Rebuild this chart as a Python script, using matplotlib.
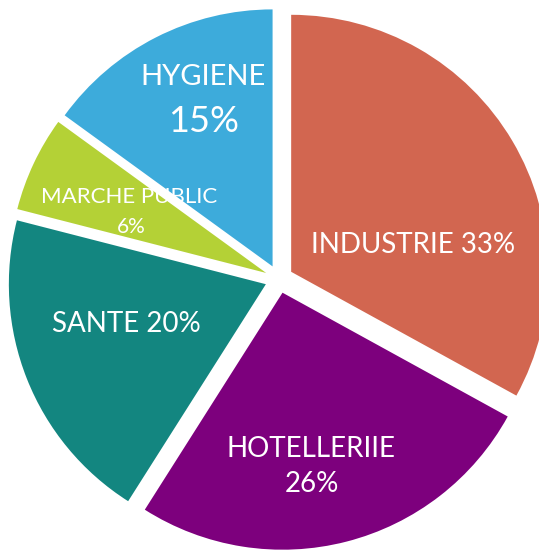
import matplotlib
matplotlib.use("Agg")
import matplotlib.pyplot as plt

categories = ["INDUSTRIE", "HOTELLERIIE", "SANTE", "MARCHE PUBLIC", "HYGIENE"]
values = [33, 26, 20, 6, 15]
colors = ["#D26650", "#7D007D", "#138680", "#B4D136", "#3DABDB"]

W, H = 539, 551
fig = plt.figure(figsize=(W / 100, H / 100), dpi=100)
ax = fig.add_axes([0, 0, 1, 1])
ax.pie(values, colors=colors, startangle=90, counterclock=False,
       explode=[0.055] * len(values), radius=1.0,
       wedgeprops=dict(linewidth=0))
ax.set_aspect("auto")
R, cxp, cyp = 257.0, 279.0, 279.0
ax.set_xlim(-cxp / R, (W - cxp) / R)
ax.set_ylim(-(H - cyp) / R, cyp / R)
ax.axis("off")

fam = ["Lato", "DejaVu Sans"]
def px(x, y):
    return x / W, 1 - y / H

def label(x, y, s, size, weight="normal"):
    fx, fy = px(x, y)
    fig.text(fx, fy, s, ha="center", va="center", color="white",
             fontsize=size, family=fam, fontweight=weight)

label(413, 245, f"{categories[0]} {values[0]}%", 20)
label(311, 449, categories[1], 20)
label(312, 484, f"{values[1]}%", 20)
label(126, 324, f"{categories[2]} {values[2]}%", 20)
label(129, 197, categories[3], 16)
label(131, 227, f"{values[3]}%", 15)
label(203, 77, categories[4], 21)
label(204, 122, f"{values[4]}%", 26)

fig.savefig("out.png", dpi=100, facecolor="white")
